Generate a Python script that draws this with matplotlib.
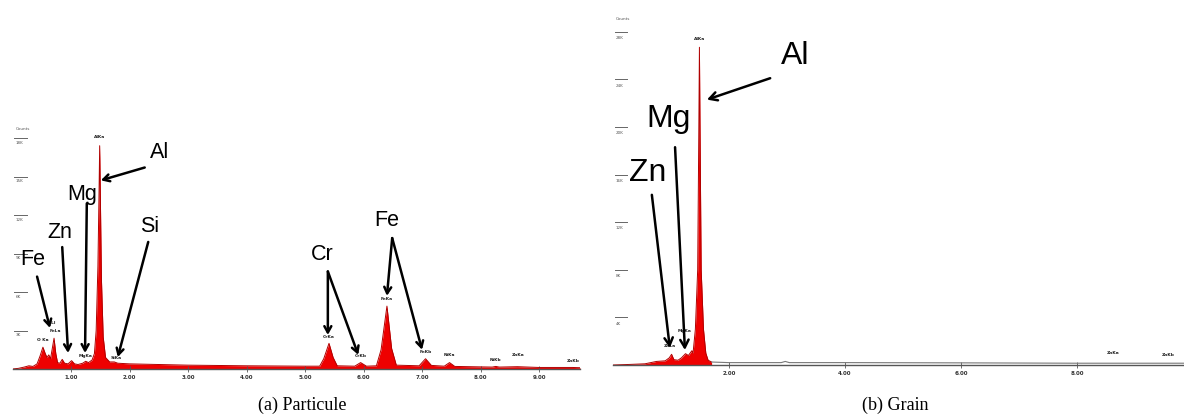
import matplotlib
matplotlib.use("Agg")
import matplotlib.pyplot as plt
from matplotlib.transforms import blended_transform_factory

# ---------------- data ----------------
# (a) Particule : traced spectrum, energy in keV, counts in thousands
part_energy = [0.00, 0.10, 0.20, 0.28, 0.35, 0.42, 0.47, 0.52, 0.56, 0.59, 0.62, 0.65,
               0.68, 0.71, 0.74, 0.77, 0.81, 0.85, 0.89, 0.95, 1.01, 1.06, 1.12, 1.20,
               1.25, 1.30, 1.36, 1.40, 1.43, 1.46, 1.48, 1.49, 1.50, 1.52, 1.55, 1.59,
               1.66, 1.74, 1.80, 2.00, 2.50, 3.00, 4.00, 5.00, 5.25, 5.32, 5.41, 5.48,
               5.55, 5.85, 5.95, 6.05, 6.22, 6.30, 6.40, 6.48, 6.56, 6.95, 7.06, 7.16,
               7.38, 7.47, 7.56, 8.20, 8.26, 8.32, 8.63, 9.00, 9.57, 9.70]
part_counts = [0.00, 0.05, 0.15, 0.25, 0.20, 0.40, 1.00, 1.70, 1.20, 0.90, 1.10, 0.80,
               1.60, 2.40, 1.20, 0.50, 0.45, 0.75, 0.45, 0.40, 0.65, 0.40, 0.35, 0.45,
               0.60, 0.50, 0.70, 1.20, 3.00, 8.00, 14.0, 17.4, 14.0, 7.00, 2.50, 0.90,
               0.55, 0.55, 0.45, 0.40, 0.35, 0.30, 0.25, 0.22, 0.22, 0.80, 2.00, 0.90,
               0.25, 0.22, 0.50, 0.22, 0.25, 1.50, 4.90, 1.60, 0.30, 0.25, 0.80, 0.28,
               0.22, 0.50, 0.20, 0.15, 0.20, 0.15, 0.18, 0.12, 0.12, 0.10]
part_peak_names = ["O Ka", "FeLa", "NiLl", "MgKa", "AlKa", "SiKa", "CrKa", "CrKb", "FeKa",
                   "FeKb", "NiKa", "NiKb", "ZnKa", "ZnKb"]
part_peak_energy = [0.52, 0.74, 0.66, 1.25, 1.49, 1.78, 5.41, 5.95, 6.40, 7.06, 7.47,
                    8.26, 8.64, 9.58]
part_peak_label_y = [2.10, 2.80, 3.40, 0.85, 17.9, 0.70, 2.30, 0.85, 5.30, 1.15, 0.95,
                     0.55, 0.95, 0.50]
part_yticks = [3, 6, 9, 12, 15, 18]
part_xticks = [1, 2, 3, 4, 5, 6, 7, 8, 9]

# (b) Grain
grain_energy = [0.00, 0.30, 0.55, 0.65, 0.75, 0.90, 0.97, 1.01, 1.05, 1.12, 1.18, 1.25,
                1.30, 1.36, 1.38, 1.42, 1.46, 1.48, 1.49, 1.50, 1.52, 1.56, 1.60, 1.64,
                1.70]
grain_counts = [0.00, 0.05, 0.10, 0.20, 0.30, 0.35, 0.60, 0.90, 0.45, 0.40, 0.60, 0.95,
                0.80, 1.20, 1.00, 3.00, 8.00, 20.0, 26.7, 20.0, 8.00, 3.00, 1.00, 0.40,
                0.25]
# faint continuum after the Al peak (drawn as a thin grey trace)
grain_tail_energy = [1.70, 2.00, 2.90, 2.97, 3.04, 4.00, 6.00, 8.00, 9.85]
grain_tail_counts = [0.25, 0.20, 0.20, 0.30, 0.20, 0.20, 0.18, 0.15, 0.15]
grain_peak_names = ["AlKa", "MgKa", "ZnLa", "ZnKa", "ZnKb"]
grain_peak_energy = [1.49, 1.24, 0.98, 8.63, 9.57]
grain_peak_label_y = [27.2, 2.70, 1.40, 0.80, 0.70]
grain_yticks = [4, 8, 12, 16, 20, 24, 28]
grain_xticks = [2, 4, 6, 8]

# annotations: (label, text position, arrow start, [arrow targets])
part_annots = [
    ("Al", (2.52, 16.9), (2.26, 15.7), [(1.51, 14.7)]),
    ("Mg", (1.19, 13.6), (1.27, 12.9), [(1.24, 1.25)]),
    ("Zn", (0.81, 10.6), (0.85, 9.5), [(0.95, 1.25)]),
    ("Fe", (0.35, 8.5), (0.42, 7.2), [(0.64, 3.2)]),
    ("Si", (2.35, 11.1), (2.32, 9.9), [(1.80, 0.93)]),
    ("Cr", (5.29, 8.9), (5.39, 7.6), [(5.39, 2.65), (5.91, 1.1)]),
    ("Fe", (6.40, 11.6), (6.49, 10.2), [(6.40, 5.7), (7.00, 1.5)]),
]
grain_annots = [
    ("Al", (3.14, 26.0), (2.71, 24.1), [(1.62, 22.3)]),
    ("Mg", (0.95, 20.7), (1.07, 18.3), [(1.24, 1.26)]),
    ("Zn", (0.60, 16.1), (0.67, 14.3), [(0.98, 1.43)]),
]

# ---------------- figure ----------------
W, H = 1184, 417
fig = plt.figure(figsize=(W / 100, H / 100), dpi=100)
fig.patch.set_facecolor("white")


def px_axes(x0, x1, ytop, ybase):
    return fig.add_axes([x0 / W, (H - ybase) / H, (x1 - x0) / W, (ybase - ytop) / H])


def draw_panel(ax, energy, counts, xlim, ylim, xticks, yticks, names, pe, py,
               annots, fs_big, tick_len_frac, head):
    ax.set_xlim(*xlim)
    ax.set_ylim(*ylim)
    ax.fill_between(energy, 0, counts, color="#ee0000", lw=0)
    ax.plot(energy, counts, color="#b00000", lw=0.7)
    for s in ["top", "right", "left"]:
        ax.spines[s].set_visible(False)
    ax.spines["bottom"].set_color("#555555")
    ax.spines["bottom"].set_linewidth(1.0)
    ax.set_yticks([])
    ax.set_xticks(xticks)
    ax.set_xticklabels([f"{t:.2f}" for t in xticks], fontsize=4, fontweight="bold",
                       color="#333333")
    ax.tick_params(axis="x", direction="inout", length=4, width=0.6, color="#555555",
                   pad=2)
    tr = blended_transform_factory(ax.transAxes, ax.transData)
    for v in yticks:
        ax.plot([0.003, 0.003 + tick_len_frac], [v, v], transform=tr, color="#666666",
                lw=0.7, clip_on=False)
        ax.text(0.005, v - ylim[1] * 0.012, f"{v}K", transform=tr, fontsize=3,
                color="#555555", ha="left", va="top")
    ax.text(0.005, yticks[-1] + ylim[1] * 0.03, "Counts", transform=tr, fontsize=3,
            color="#555555", ha="left", va="bottom")
    for n, e, y in zip(names, pe, py):
        ax.text(e, y, n, fontsize=3.2, fontweight="bold", color="#202020",
                ha="center", va="bottom")
    for label, tpos, start, targets in annots:
        ax.text(tpos[0], tpos[1], label, fontsize=fs_big, family="Liberation Sans",
                ha="center", va="center", color="black")
        for tgt in targets:
            ax.annotate("", xy=tgt, xytext=start,
                        arrowprops=dict(arrowstyle=f"->,head_length={head[0]},head_width={head[1]}",
                                        color="black", lw=1.8, shrinkA=0, shrinkB=0))


# left panel
axa = px_axes(12.5, 580, 130, 369)
draw_panel(axa, part_energy, part_counts, (0, 9.70), (0, (369 - 130) * 3 / 38.5),
           part_xticks, part_yticks, part_peak_names, part_peak_energy, part_peak_label_y,
           part_annots, 15.5, 0.022, (0.45, 0.25))

# right panel
axb = px_axes(613, 1184, 15, 365)
draw_panel(axb, grain_energy, grain_counts, (0, 571 / 58), (0, (365 - 15) * 4 / 47.6),
           grain_xticks, grain_yticks, grain_peak_names, grain_peak_energy,
           grain_peak_label_y, grain_annots, 23, 0.022, (0.55, 0.3))
axb.plot(grain_tail_energy, grain_tail_counts, color="#777777", lw=0.8)

# captions
fig.text(302 / W, (H - 405) / H, "(a) Particule", fontsize=13, family="Liberation Serif",
         ha="center", va="center")
fig.text(895 / W, (H - 405) / H, "(b) Grain", fontsize=13, family="Liberation Serif",
         ha="center", va="center")

fig.savefig("out.png", dpi=100, facecolor="white")
